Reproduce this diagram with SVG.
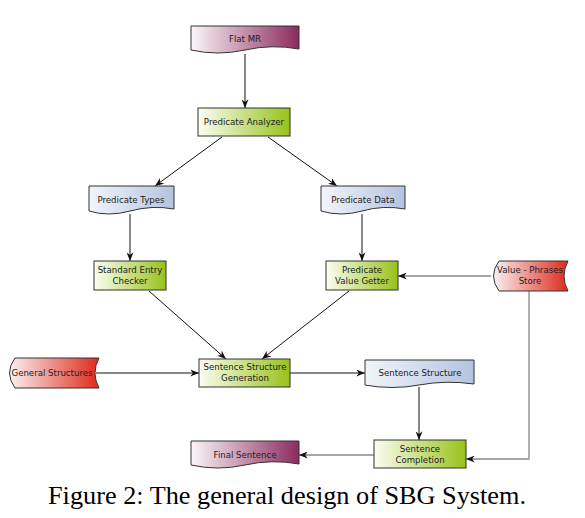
<svg xmlns="http://www.w3.org/2000/svg" width="585" height="518" viewBox="0 0 585 518">
<style>
.bg{fill:#fff}
.box{stroke:#333;stroke-width:1}
.g{fill:url(#gGreen)}
.b{fill:url(#gBlue)}
.r{fill:url(#gRed)}
.p{fill:url(#gPurple)}
.t{font-family:"DejaVu Sans",sans-serif;font-size:8.6px;fill:#222;text-anchor:middle}
.c{fill:none;stroke:#111;stroke-width:1}
.cg{fill:none;stroke:#888;stroke-width:1.3}
.cap{font-family:"Liberation Serif",serif;font-size:26px;fill:#000;text-anchor:middle}
</style>
<defs>
<linearGradient id="gGreen" x1="0" y1="0" x2="1" y2="0"><stop offset="0" stop-color="#fbfdf2"/><stop offset="1" stop-color="#98c21a"/></linearGradient>
<linearGradient id="gBlue" x1="0" y1="0" x2="1" y2="0"><stop offset="0" stop-color="#f2f4fa"/><stop offset="1" stop-color="#b3c3e0"/></linearGradient>
<linearGradient id="gRed" x1="0" y1="0" x2="1" y2="0"><stop offset="0" stop-color="#faf0f0"/><stop offset="1" stop-color="#de2a1c"/></linearGradient>
<linearGradient id="gPurple" x1="0" y1="0" x2="1" y2="0"><stop offset="0" stop-color="#fbf6f8"/><stop offset="1" stop-color="#8a2b5c"/></linearGradient>
<marker id="ah" viewBox="0 0 10 8" refX="10" refY="4" markerWidth="9" markerHeight="7" markerUnits="userSpaceOnUse" orient="auto"><path d="M0,0 L10,4 L0,8 L3,4 Z" fill="#111"/></marker>
</defs>
<rect class="bg" width="585" height="518"/>
<g id="connectors">
<line class="c" x1="245" y1="54" x2="245" y2="108" marker-end="url(#ah)"/>
<line class="c" x1="222" y1="137" x2="155" y2="186" marker-end="url(#ah)"/>
<line class="c" x1="268" y1="137" x2="337" y2="186" marker-end="url(#ah)"/>
<line class="c" x1="130" y1="214" x2="130" y2="261" marker-end="url(#ah)"/>
<line class="c" x1="362" y1="214" x2="362" y2="261" marker-end="url(#ah)"/>
<line class="c" x1="149" y1="291" x2="226" y2="359" marker-end="url(#ah)"/>
<line class="c" x1="349" y1="291" x2="262" y2="359" marker-end="url(#ah)"/>
<line class="c" x1="96" y1="373" x2="199" y2="373" marker-end="url(#ah)"/>
<line class="c" x1="290" y1="373" x2="365" y2="373" marker-end="url(#ah)"/>
<line class="c" x1="419" y1="387" x2="419" y2="440" marker-end="url(#ah)"/>
<line class="cg" x1="491" y1="276" x2="398" y2="276" marker-end="url(#ah)"/>
<polyline class="cg" points="529,291 529,459 466,459" marker-end="url(#ah)"/>
<line class="cg" x1="374" y1="455" x2="299" y2="455" marker-end="url(#ah)"/>
</g>
<g id="flat-mr">
<path class="box p" d="M191,26 H299 V49 Q272,44 245,50 T191,50 Z"/>
<text class="t" x="245" y="42">Flat MR</text>
</g>
<g id="predicate-analyzer">
<rect class="box g" x="198" y="108" width="92" height="28"/>
<text class="t" x="244" y="125">Predicate Analyzer</text>
</g>
<g id="predicate-types">
<path class="box b" d="M89,186 H174 V209 Q152,205 130,211 T89,211 Z"/>
<text class="t" x="131" y="203">Predicate Types</text>
</g>
<g id="predicate-data">
<path class="box b" d="M321,186 H405 V209 Q383,205 362,211 T321,211 Z"/>
<text class="t" x="363" y="203">Predicate Data</text>
</g>
<g id="standard-entry-checker">
<rect class="box g" x="94" y="261" width="72" height="29"/>
<text class="t" x="130" y="273">Standard Entry</text>
<text class="t" x="130" y="284">Checker</text>
</g>
<g id="predicate-value-getter">
<rect class="box g" x="326" y="261" width="72" height="29"/>
<text class="t" x="362" y="273">Predicate</text>
<text class="t" x="362" y="284">Value Getter</text>
</g>
<g id="value-phrases-store">
<path class="box r" d="M499,261 H568 Q560,276 568,291 H499 Q488,276 499,261 Z"/>
<text class="t" x="530" y="273">Value - Phrases</text>
<text class="t" x="530" y="284">Store</text>
</g>
<g id="general-structures">
<path class="box r" d="M15,358 H99 Q91,373 99,388 H15 Q4,373 15,358 Z"/>
<text class="t" x="52" y="376">General Structures</text>
</g>
<g id="sentence-structure-generation">
<rect class="box g" x="199" y="359" width="91" height="28"/>
<text class="t" x="245" y="370">Sentence Structure</text>
<text class="t" x="245" y="381">Generation</text>
</g>
<g id="sentence-structure">
<path class="box b" d="M365,360 H474 V384 Q446,380 419,385 T365,385 Z"/>
<text class="t" x="420" y="376">Sentence Structure</text>
</g>
<g id="sentence-completion">
<rect class="box g" x="374" y="440" width="92" height="28"/>
<text class="t" x="420" y="452">Sentence</text>
<text class="t" x="420" y="463">Completion</text>
</g>
<g id="final-sentence">
<path class="box p" d="M191,441 H299 V464 Q272,459 245,465 T191,465 Z"/>
<text class="t" x="245" y="458">Final Sentence</text>
</g>
<text class="cap" x="287" y="504" textLength="478" lengthAdjust="spacingAndGlyphs">Figure 2: The general design of SBG System.</text>
</svg>
